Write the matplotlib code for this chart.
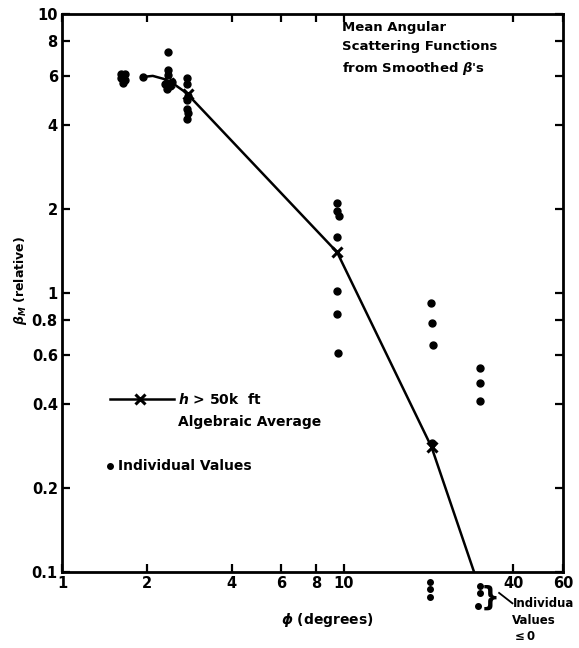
import numpy as np
import matplotlib
matplotlib.use("Agg")
import matplotlib.pyplot as plt

# individual values (degrees, relative beta)
ind_x = [1.62, 1.68, 1.62, 1.68, 1.65,
         2.38, 2.38, 2.38, 2.32, 2.42, 2.36, 2.45,
         2.78, 2.78, 2.8, 2.78, 2.78, 2.8, 2.78,
         9.5, 9.5, 9.6, 9.5, 9.5, 9.5, 9.55,
         20.4, 20.5, 20.7, 20.6,
         30.5, 30.5, 30.5]
ind_y = [6.1, 6.1, 5.9, 5.8, 5.65,
         7.3, 6.3, 6.05, 5.6, 5.5, 5.4, 5.7,
         5.9, 5.6, 5.1, 4.9, 4.55, 4.4, 4.2,
         2.1, 1.97, 1.89, 1.59, 1.02, 0.84, 0.61,
         0.92, 0.78, 0.65, 0.29,
         0.54, 0.475, 0.41]

# values <= 0, drawn below the axis
neg_x = [20.3, 20.3, 20.3, 30.5, 30.5, 30.0]
neg_y = [0.092, 0.0866, 0.0815, 0.0888, 0.084, 0.0758]

# algebraic average, h > 50k ft
avg_x = [1.94, 2.1, 2.3, 2.5, 2.7, 2.9, 9.47, 20.5, 29.0]
avg_y = [5.95, 6.0, 5.85, 5.6, 5.3, 4.95, 1.40, 0.28, 0.1]
star_x = [2.4, 2.8, 9.47, 20.5]
star_y = [5.65, 5.15, 1.40, 0.28]

xticks = [1, 2, 4, 6, 8, 10, 40, 60]
yticks = [0.1, 0.2, 0.4, 0.6, 0.8, 1, 2, 4, 6, 8, 10]
ylabels = ['0.1', '0.2', '0.4', '0.6', '0.8', '1', '2', '4', '6', '8', '10']

plt.rcParams['font.family'] = ['DejaVu Sans']
plt.rcParams['font.weight'] = 'bold'

fig = plt.figure(figsize=(5.79, 6.48), dpi=100)
ax = fig.add_axes([0.1071, 0.1173, 0.8653, 0.8611])
ax.set_xscale('log')
ax.set_yscale('log')
ax.set_xlim(1, 60)
ax.set_ylim(0.1, 10)

ax.plot(avg_x, avg_y, color='black', lw=1.8, solid_capstyle='round')
ax.plot(avg_x[0], avg_y[0], 'o', color='black', ms=5)
ax.plot(star_x, star_y, 'x', color='black', ms=7, mew=2.2)
ax.plot(ind_x, ind_y, 'o', color='black', ms=5, ls='none')
ax.plot(neg_x, neg_y, 'o', color='black', ms=4, ls='none', clip_on=False)

# ticks
ax.set_xticks(xticks)
ax.set_xticklabels([str(t) for t in xticks])
ax.set_yticks(yticks)
ax.set_yticklabels(ylabels)
ax.minorticks_off()
ax.tick_params(direction='in', length=6, width=1.6, labelsize=10.5,
               top=True, right=True, pad=3)
for s in ax.spines.values():
    s.set_linewidth(2.0)

ax.set_xlabel(r'$\phi$' + ' (degrees)', fontsize=10, fontweight='bold')
ax.xaxis.set_label_coords(0.53, -0.07)
ax.set_ylabel(r'$\beta_M$' + ' (relative)', fontsize=9, fontweight='bold')
ax.yaxis.set_label_coords(-0.066, 0.523)

# title block
fig.text(0.59, 0.968, 'Mean Angular\nScattering Functions\nfrom Smoothed ' + r'$\beta$' + "'s",
         fontsize=9.5, fontweight='bold', va='top', ha='left', linespacing=1.6)

# legend drawn by hand
lx = [0.19, 0.30]
ly = [0.384, 0.384]
fig.add_artist(plt.Line2D(lx, ly, color='black', lw=1.8))
fig.add_artist(plt.Line2D([0.242], [0.384], marker='x', color='black', ms=7, mew=2.2))
fig.text(0.307, 0.384, r'$h$' + ' > 50k  ft', fontsize=10, fontweight='bold', va='center')
fig.text(0.307, 0.348, 'Algebraic Average', fontsize=10, fontweight='bold', va='center')
fig.add_artist(plt.Line2D([0.19], [0.281], marker='o', color='black', ms=4))
fig.text(0.203, 0.281, 'Individual Values', fontsize=10, fontweight='bold', va='center')

# note for values <= 0
fig.text(0.846, 0.077, '}', fontsize=19, va='center', ha='center')
fig.add_artist(plt.Line2D([0.862, 0.885], [0.085, 0.069], color='black', lw=1.3))
fig.text(0.885, 0.078, 'Individua\nValues\n' + r'$\leq$' + '0', fontsize=8.5,
         fontweight='bold', va='top', ha='left', linespacing=1.35)

fig.savefig('out.png', dpi=100)
